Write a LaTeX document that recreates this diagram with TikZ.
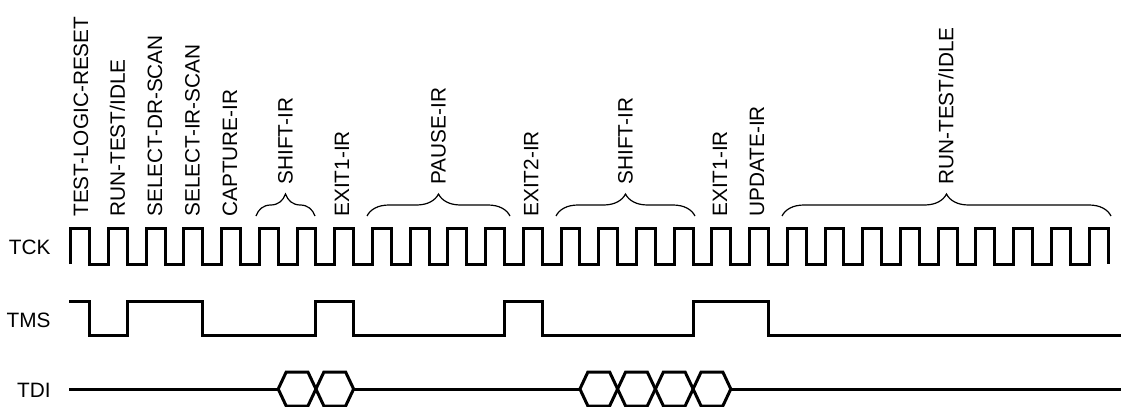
\documentclass[tikz,border=0pt]{standalone}
\usepackage{fontspec}
\setmainfont{Liberation Sans}
\usetikzlibrary{decorations.pathreplacing}
\tikzset{
  wave/.style={line width=1.5pt},
  state/.style={rotate=90, anchor=west, inner sep=0pt},
  sig/.style={anchor=east, inner sep=0pt},
  span/.style={decorate, decoration={brace, amplitude=11pt}, line width=0.6pt},
}
\begin{document}
\begin{tikzpicture}[x=0.5pt, y=-0.5pt, font=\fontsize{10.4}{12}\selectfont]
\useasboundingbox (0,0) rectangle (1121,407);

\node[sig] (tck) at (51,247) {TCK};
\node[sig] (tms) at (51,320) {TMS};
\node[sig] (tdi) at (51,390.5) {TDI};

\node[state] (tlr) at (81,217) {TEST-LOGIC-RESET};
\node[state] (rti) at (117.5,217) {RUN-TEST/IDLE};
\node[state] (seldr) at (155,217) {SELECT-DR-SCAN};
\node[state] (selir) at (192.5,217) {SELECT-IR-SCAN};
\node[state] (capir) at (230,217) {CAPTURE-IR};
\node[state] (exita) at (342,217) {EXIT1-IR};
\node[state] (exitb) at (531,217) {EXIT2-IR};
\node[state] (exitc) at (720,217) {EXIT1-IR};
\node[state] (updir) at (757,217) {UPDATE-IR};

\draw[span] (256,216) -- (315,216);
\node[state] (shifta) at (285.5,185) {SHIFT-IR};
\draw[span] (367,216) -- (510,216);
\node[state] (pauseir) at (438.5,185) {PAUSE-IR};
\draw[span] (556,216) -- (695,216);
\node[state] (shiftb) at (625.5,185) {SHIFT-IR};
\draw[span] (782,216) -- (1111,216);
\node[state] (rtib) at (946,185) {RUN-TEST/IDLE};

\draw[wave] (70.7,264) \foreach \k in {0,...,26} {-- ++(0,-36) -- ++(18.86,0) -- ++(0,36) -- ++(18.86,0)}
  -- ++(0,-36) -- ++(18.86,0) -- ++(0,36);

\draw[wave] (69.3,301) -- (89.6,301) -- (89.6,335) -- (127.3,335) -- (127.3,301) -- (202.7,301)
  -- (202.7,335) -- (315.9,335) -- (315.9,301) -- (353.6,301) -- (353.6,335) -- (504.5,335)
  -- (504.5,301) -- (542.2,301) -- (542.2,335) -- (693.1,335) -- (693.1,301) -- (768.5,301)
  -- (768.5,335) -- (1121,335);

\draw[wave] (69.3,389) -- (278.2,389);
\draw[wave] (353.6,389) -- (579.9,389);
\draw[wave] (730.8,389) -- (1121,389);
\foreach \a in {278.2,315.9,579.9,617.6,655.4,693.1}
  \draw[wave] (\a,389) -- ++(8,-17) -- ++(21.72,0) -- ++(8,17) -- ++(-8,17) -- ++(-21.72,0) -- cycle;
\end{tikzpicture}
\end{document}
